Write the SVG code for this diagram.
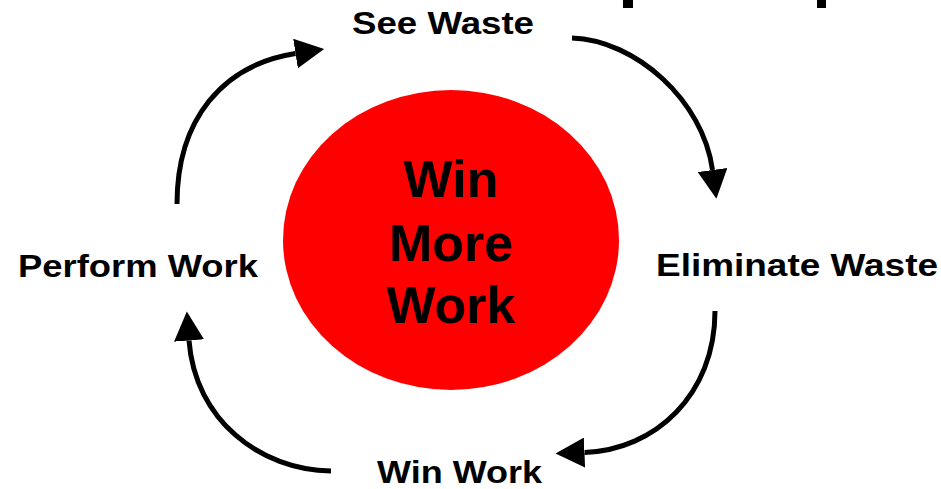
<svg xmlns="http://www.w3.org/2000/svg" width="941" height="489" viewBox="0 0 941 489">
  <style>
    .lbl { font-family: "Liberation Sans", Arial, sans-serif; font-weight: bold; font-size: 32px; fill: #000; }
    .hub { font-family: "Liberation Sans", Arial, sans-serif; font-weight: bold; font-size: 52px; fill: #000; text-anchor: middle; }
    .arc { fill: none; stroke: #000; stroke-width: 5; }
  </style>
  <defs>
    <marker id="ah" markerUnits="userSpaceOnUse" markerWidth="30" markerHeight="30" refX="0" refY="15" orient="auto" viewBox="0 0 30 30">
      <path d="M0,0 L29,15 L0,30 Z" fill="#000"/>
    </marker>
  </defs>
  <rect width="941" height="489" fill="#fff"/>
  <g id="title-fragments">
    <rect x="623" y="0" width="10" height="8" fill="#000"/>
    <rect x="817" y="0" width="9" height="8" fill="#000"/>
  </g>
  <g id="hub">
    <ellipse cx="451" cy="240" rx="168" ry="150" fill="#ff0000"/>
    <text class="hub" x="451" y="197">Win</text>
    <text class="hub" x="451" y="261">More</text>
    <text class="hub" x="451" y="323">Work</text>
  </g>
  <g id="see-waste">
    <text class="lbl" x="352" y="34" textLength="182" lengthAdjust="spacingAndGlyphs">See Waste</text>
  </g>
  <g id="eliminate-waste">
    <text class="lbl" x="656" y="276" textLength="282" lengthAdjust="spacingAndGlyphs">Eliminate Waste</text>
  </g>
  <g id="win-work">
    <text class="lbl" x="377" y="483" textLength="165" lengthAdjust="spacingAndGlyphs">Win Work</text>
  </g>
  <g id="perform-work">
    <text class="lbl" x="18" y="277" textLength="240" lengthAdjust="spacingAndGlyphs">Perform Work</text>
  </g>
  <g id="connectors">
    <path class="arc" d="M177,204 C177,120 222,65 295.5,53.5" marker-end="url(#ah)"/>
    <path class="arc" d="M572,38 C635,40 703,100 712.5,170" marker-end="url(#ah)"/>
    <path class="arc" d="M715,311 C715,395 655,450 584.5,452.5" marker-end="url(#ah)"/>
    <path class="arc" d="M331,471 C260,470 195,420 189,340.5" marker-end="url(#ah)"/>
  </g>
</svg>
